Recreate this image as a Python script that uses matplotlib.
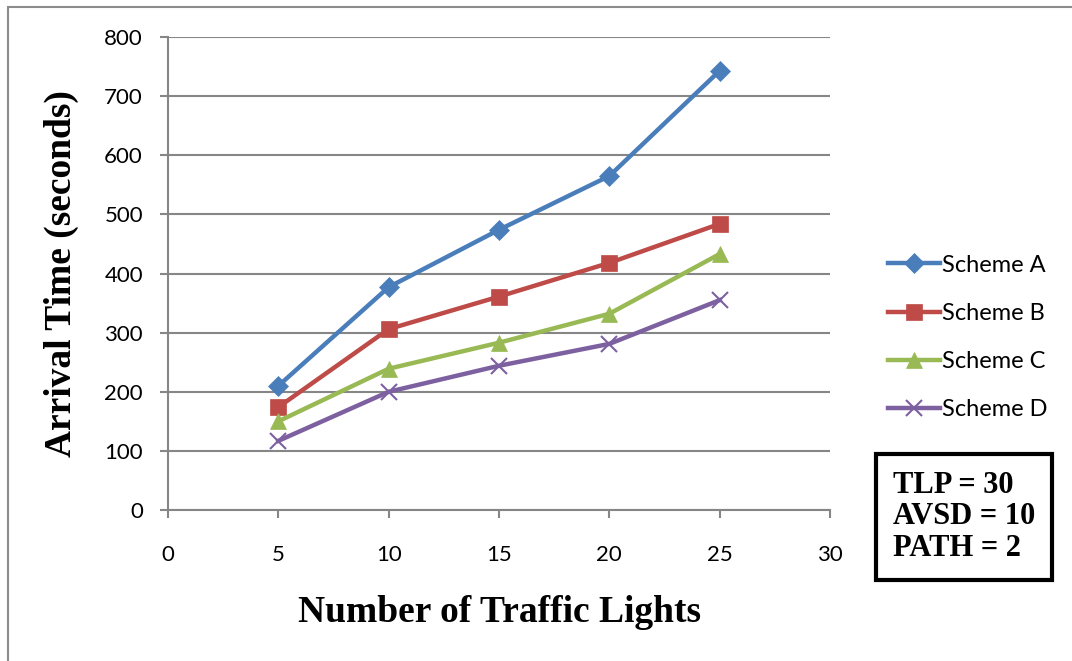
import matplotlib
matplotlib.use("Agg")
import matplotlib.pyplot as plt
from matplotlib.patches import Rectangle

# traffic light counts and arrival times per scheme
lights = [5, 10, 15, 20, 25]
scheme_a = [210, 377, 474, 565, 743]
scheme_b = [174, 306, 361, 418, 484]
scheme_c = [150, 239, 283, 332, 433]
scheme_d = [117, 200, 244, 281, 355]
names = ["Scheme A", "Scheme B", "Scheme C", "Scheme D"]
params = ["TLP = 30", "AVSD = 10", "PATH = 2"]

colors = ["#4A7EBB", "#BE4B48", "#98B954", "#7D60A0"]
markers = ["D", "s", "^", "x"]
sizes = [10, 12, 12, 12]

fig = plt.figure(figsize=(10.72, 6.61), dpi=100)
ax = fig.add_axes([0.1567, 0.2284, 0.6176, 0.7156])

# outer chart frame
fig.patches.append(Rectangle((8 / 1072, -0.05), 1.1, 0.05 + (661 - 7) / 661,
                             transform=fig.transFigure, fill=False,
                             edgecolor="#8c8c8c", linewidth=1.5))

for ys, name, c, m, s in zip([scheme_a, scheme_b, scheme_c, scheme_d],
                             names, colors, markers, sizes):
    ax.plot(lights, ys, color=c, linewidth=3.2, marker=m, markersize=s,
            markeredgewidth=1.5 if m == "x" else 0.5,
            markeredgecolor=c, label=name, zorder=3)

ax.set_xlim(0, 30)
ax.set_ylim(0, 800)
ax.set_xticks(range(0, 31, 5))
ax.set_yticks(range(0, 801, 100))
ax.grid(axis="y", color="#868686", linewidth=1.5)
ax.set_axisbelow(True)
for sp in ["top", "right"]:
    ax.spines[sp].set_visible(False)
for sp in ["left", "bottom"]:
    ax.spines[sp].set_color("#868686")
    ax.spines[sp].set_linewidth(1.5)
ax.tick_params(color="#868686", width=1.5, length=6, labelsize=16)
ax.tick_params(axis="x", pad=19)
ax.tick_params(axis="y", pad=12)
for lbl in ax.get_xticklabels() + ax.get_yticklabels():
    lbl.set_fontfamily("Lato")

ax.set_xlabel("Number of Traffic Lights", fontsize=27, fontweight="bold",
              fontfamily="Liberation Serif", labelpad=22)
ax.set_ylabel("Arrival Time (seconds)", fontsize=27, fontweight="bold",
              fontfamily="Liberation Serif", labelpad=18)

leg = ax.legend(loc="center left", bbox_to_anchor=(1.055, 0.365),
                frameon=False, prop={"family": "Lato", "size": 17},
                handlelength=2.2, handletextpad=0.1, labelspacing=1.15)

fig.text(893 / 1072, 1 - 563 / 661, "\n".join(params), fontsize=22,
         fontweight="bold", fontfamily="Liberation Serif", va="bottom",
         ha="left", linespacing=1.12,
         bbox=dict(boxstyle="square,pad=0.55", facecolor="white",
                   edgecolor="black", linewidth=3))

fig.savefig("out.png", dpi=100)
